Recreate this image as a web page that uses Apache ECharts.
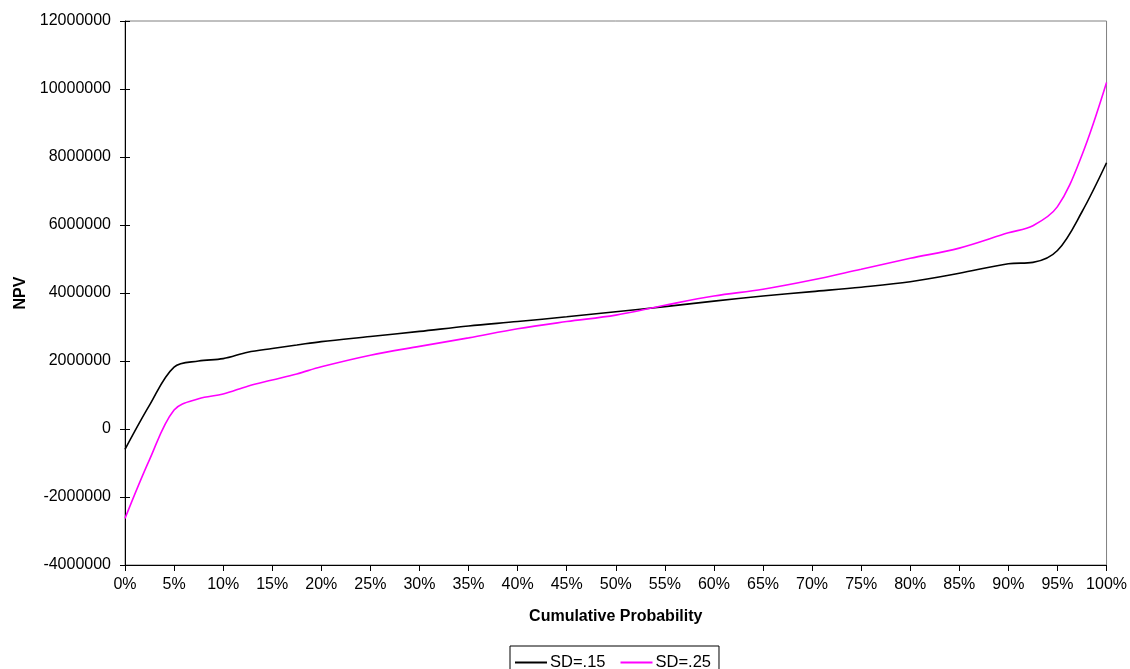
<!DOCTYPE html>
<html>
<head>
<meta charset="utf-8">
<script src="https://cdn.jsdelivr.net/npm/echarts@6/dist/echarts.min.js"></script>
<style>
  html, body { margin: 0; padding: 0; background: #fff; }
  #chart { width: 1130px; height: 669px; }
</style>
</head>
<body>
<div id="chart"></div>
<script>
// Cumulative probability points (fraction of 1)
const probability = [0, 0.025, 0.05, 0.075, 0.10, 0.125, 0.15, 0.175, 0.20, 0.25, 0.30, 0.35, 0.40, 0.45,
  0.50, 0.55, 0.60, 0.65, 0.70, 0.75, 0.80, 0.85, 0.90, 0.925, 0.95, 0.975, 1.00];

// NPV for each standard deviation scenario
const npvSD15 = [-600000, 700000, 1820000, 2000000, 2070000, 2260000, 2370000, 2470000, 2570000, 2720000,
  2870000, 3030000, 3160000, 3300000, 3450000, 3600000, 3760000, 3910000, 4040000, 4170000, 4330000,
  4580000, 4860000, 4900000, 5250000, 6390000, 7830000];
const npvSD25 = [-2630000, -900000, 560000, 890000, 1030000, 1260000, 1440000, 1620000, 1830000, 2170000,
  2430000, 2680000, 2950000, 3160000, 3350000, 3640000, 3910000, 4110000, 4380000, 4700000, 5020000,
  5320000, 5770000, 5980000, 6540000, 8060000, 10190000];

const yTicks = { min: -4000000, max: 12000000, interval: 2000000 };
const seriesNames = ['SD=.15', 'SD=.25'];
const seriesColors = ['#000000', '#ff00ff'];

const pairs = vals => probability.map((p, i) => [p, vals[i]]);

const font = 'Liberation Sans, Arial, sans-serif';
const chart = echarts.init(document.getElementById('chart'), null, { renderer: 'canvas' });

chart.setOption({
  animation: false,
  backgroundColor: '#ffffff',
  textStyle: { fontFamily: font },
  grid: {
    left: 125, top: 21, right: 22, bottom: 104,
    show: true, borderColor: '#808080', borderWidth: 1, backgroundColor: '#ffffff'
  },
  legend: {
    left: 510, top: 646,
    padding: [8, 8, 4, 5],
    borderColor: '#000', borderWidth: 1,
    itemWidth: 32, itemHeight: 2, itemGap: 15,
    icon: 'rect',
    textStyle: { fontFamily: font, fontSize: 16.5, color: '#000', padding: [0, 0, 0, -2] },
    data: seriesNames
  },
  xAxis: {
    type: 'value', min: 0, max: 1, interval: 0.05,
    name: 'Cumulative Probability', nameLocation: 'middle', nameGap: 44,
    nameTextStyle: { fontFamily: font, fontSize: 16, fontWeight: 'bold', color: '#000' },
    axisLine: { onZero: false, lineStyle: { color: '#000', width: 1 } },
    axisTick: { show: true, length: 6, lineStyle: { color: '#000' } },
    axisLabel: {
      fontFamily: font, fontSize: 16, color: '#000', margin: 12,
      formatter: v => Math.round(v * 100) + '%'
    },
    splitLine: { show: false }
  },
  yAxis: [{
    type: 'value', min: yTicks.min, max: yTicks.max, interval: yTicks.interval,
    name: 'NPV', nameLocation: 'middle', nameGap: 96,
    nameTextStyle: { fontFamily: font, fontSize: 16, fontWeight: 'bold', color: '#000' },
    axisLine: { show: true, lineStyle: { color: '#000', width: 1 } },
    axisTick: { show: true, length: 5, lineStyle: { color: '#000' } },
    axisLabel: { fontFamily: font, fontSize: 16, color: '#000', margin: 14, formatter: v => String(v) },
    splitLine: { show: false }
  }, {
    // inner half of the crossing tick marks
    type: 'value', position: 'left', min: yTicks.min, max: yTicks.max, interval: yTicks.interval,
    axisLine: { show: false },
    axisTick: { show: true, inside: true, length: 5, lineStyle: { color: '#000' } },
    axisLabel: { show: false },
    splitLine: { show: false }
  }],
  series: [
    {
      name: seriesNames[0], type: 'line', smooth: 0.35, showSymbol: false,
      data: pairs(npvSD15), color: seriesColors[0],
      lineStyle: { width: 1.6, color: seriesColors[0] }
    },
    {
      name: seriesNames[1], type: 'line', smooth: 0.35, showSymbol: false,
      data: pairs(npvSD25), color: seriesColors[1],
      lineStyle: { width: 1.6, color: seriesColors[1] }
    }
  ]
});
</script>
</body>
</html>
